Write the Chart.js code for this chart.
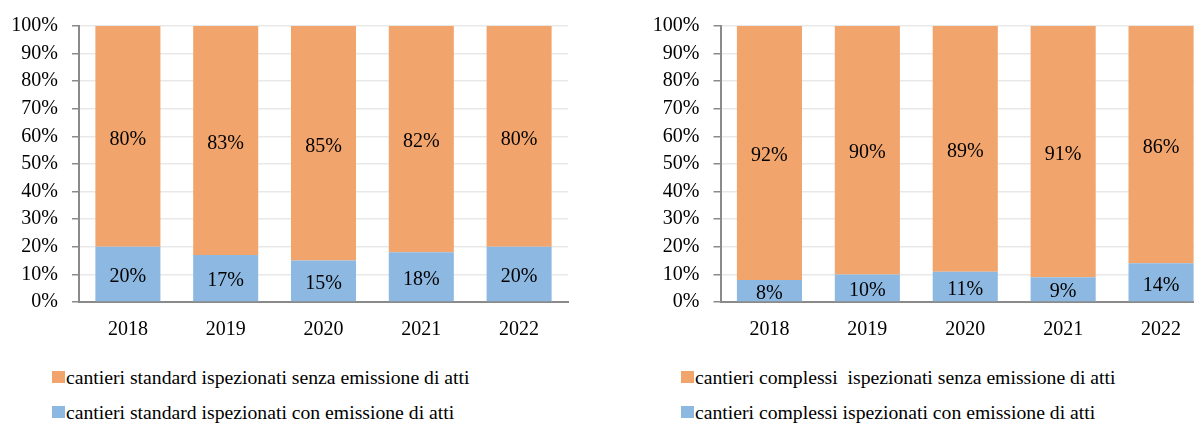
<!DOCTYPE html>
<html>
<head>
<meta charset="utf-8">
<script src="https://cdn.jsdelivr.net/npm/chart.js@4"></script>
<style>
  html, body { margin:0; padding:0; background:#fff; }
  body { width:1194px; height:427px; overflow:hidden; position:relative; font-family:"Liberation Serif", "Times New Roman", serif; }
  .cw { position:absolute; top:0; height:345px; }
  .leg { position:absolute; font-size:19.7px; color:#000; white-space:pre; line-height:22px; }
  .leg .box { position:absolute; left:0; top:5px; width:13px; height:12px; }
  .leg .txt { position:absolute; left:14px; top:0; }
</style>
</head>
<body>
<div class="cw" style="left:0;width:600px;"><canvas id="c1" width="600" height="345"></canvas></div>
<div class="cw" style="left:600px;width:620px;"><canvas id="c2" width="620" height="345"></canvas></div>
<div id="leg1"></div>
<div id="leg2"></div>
<script>
const years = ['2018','2019','2020','2021','2022'];
const stdWith = [20, 17, 15, 18, 20];
const stdWithout = [80, 83, 85, 82, 80];
const cmpWith = [8, 10, 11, 9, 14];
const cmpWithout = [92, 90, 89, 91, 86];
const yTicks = [0,10,20,30,40,50,60,70,80,90,100];
const labelsStd = ['cantieri standard ispezionati senza emissione di atti', 'cantieri standard ispezionati con emissione di atti'];
const labelsCmp = ['cantieri complessi  ispezionati senza emissione di atti', 'cantieri complessi ispezionati con emissione di atti'];

const ORANGE = '#F2A46D';
const BLUE = '#8DB8E1';
const FONT = '"Liberation Serif", "Times New Roman", serif';

const valueLabels = {
  id: 'valueLabels',
  afterDatasetsDraw(chart) {
    const ctx = chart.ctx;
    ctx.save();
    ctx.font = '20px ' + FONT;
    ctx.fillStyle = '#000';
    ctx.textAlign = 'center';
    ctx.textBaseline = 'middle';
    chart.data.datasets.forEach((ds, i) => {
      const meta = chart.getDatasetMeta(i);
      meta.data.forEach((el, j) => {
        const y = (el.y + el.base) / 2;
        ctx.fillText(ds.data[j] + '%', el.x, y + 3);
      });
    });
    ctx.restore();
  }
};

function makeChart(id, withData, withoutData, labels, yWidth, padRight) {
  return new Chart(document.getElementById(id), {
    type: 'bar',
    data: {
      labels: years,
      datasets: [
        { label: labels[1], data: withData, backgroundColor: BLUE, categoryPercentage: 1, barPercentage: 0.665 },
        { label: labels[0], data: withoutData, backgroundColor: ORANGE, categoryPercentage: 1, barPercentage: 0.665 }
      ]
    },
    options: {
      responsive: false,
      animation: false,
      layout: { padding: { top: 25, right: padRight, bottom: 0, left: 0 } },
      plugins: { legend: { display: false }, tooltip: { enabled: false } },
      scales: {
        x: {
          stacked: true,
          z: 1,
          grid: { display: false },
          border: { display: true, color: '#8a8a8a', width: 2 },
          ticks: { color: '#000', font: { family: FONT, size: 20 }, padding: 8 },
          afterFit(s) { s.height = 43; }
        },
        y: {
          stacked: true,
          min: 0, max: 100,
          z: 1,
          afterBuildTicks(s) { s.ticks = yTicks.map(v => ({ value: v })); },
          grid: { color: 'rgba(0,0,0,0.09)', lineWidth: 1.5, tickLength: 7, tickColor: '#8a8a8a' },
          border: { display: true, color: '#8a8a8a', width: 2 },
          ticks: { color: '#000', font: { family: FONT, size: 20 }, padding: 14, callback: v => v + '%' },
          afterFit(s) { s.width = yWidth; }
        }
      }
    },
    plugins: [valueLabels]
  });
}

makeChart('c1', stdWith, stdWithout, labelsStd, 79, 32);
makeChart('c2', cmpWith, cmpWithout, labelsCmp, 120.5, 10);

function makeLegend(id, left, labels) {
  const el = document.getElementById(id);
  const colors = [ORANGE, BLUE];
  const tops = [366, 401];
  labels.forEach((t, i) => {
    const d = document.createElement('div');
    d.className = 'leg';
    d.style.left = left + 'px';
    d.style.top = tops[i] + 'px';
    d.innerHTML = '<div class="box" style="background:' + colors[i] + '"></div><div class="txt"></div>';
    d.querySelector('.txt').textContent = t;
    el.appendChild(d);
  });
}
makeLegend('leg1', 52, labelsStd);
makeLegend('leg2', 681, labelsCmp);
</script>
</body>
</html>
